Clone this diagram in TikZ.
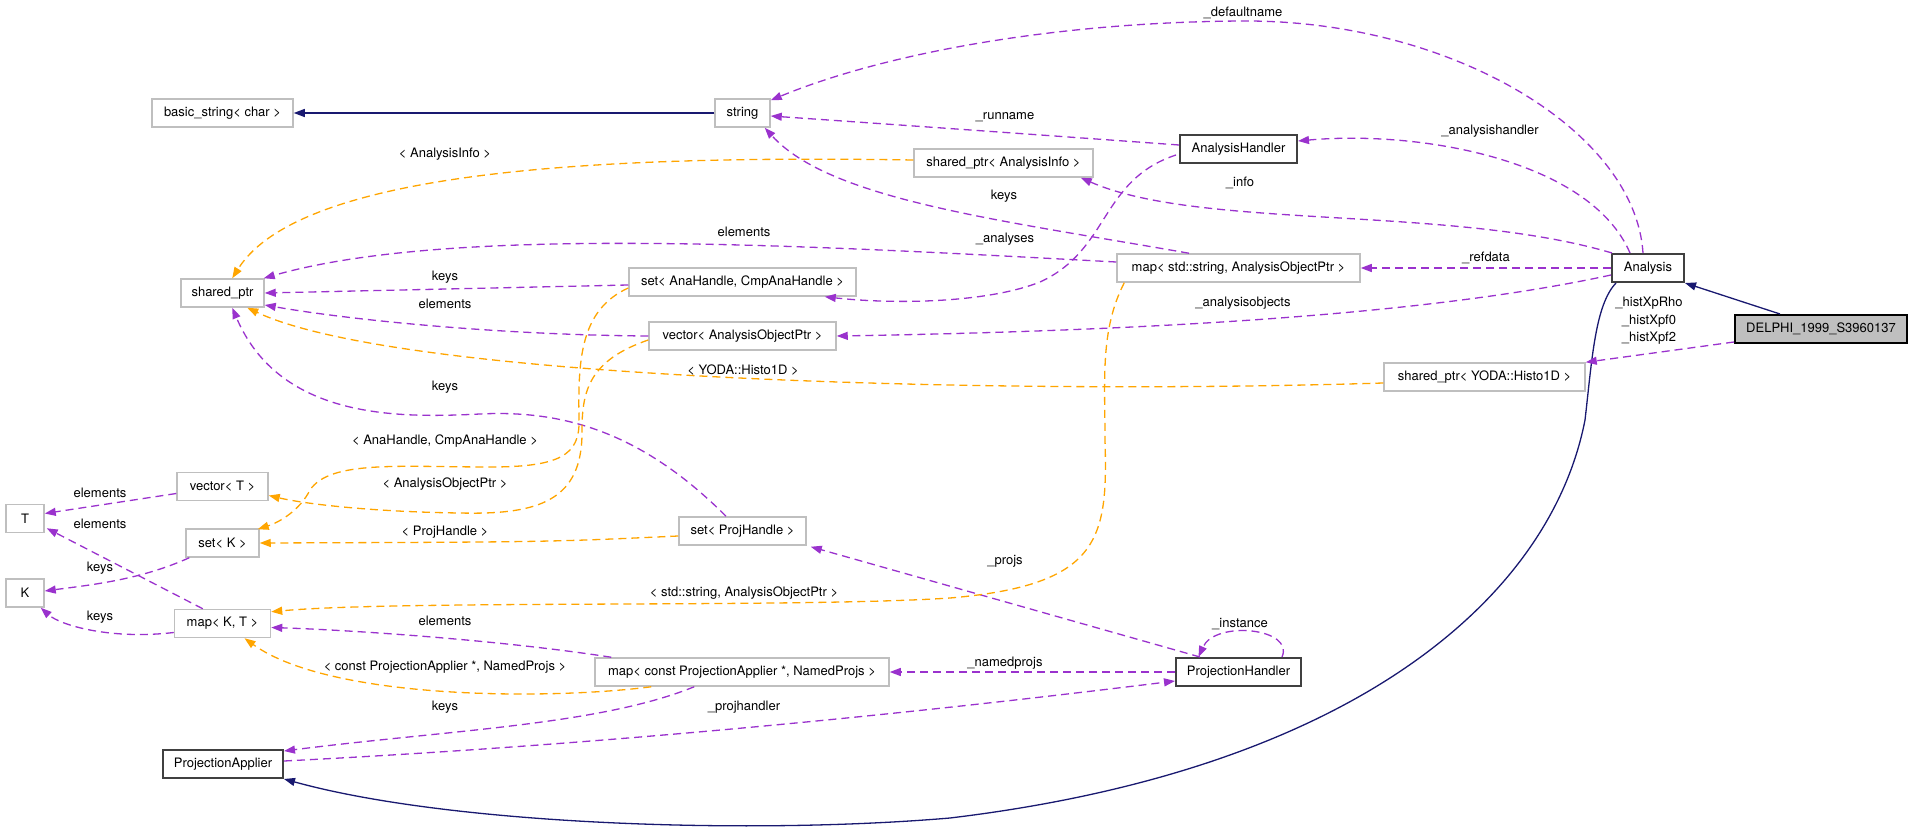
\documentclass[tikz,border=0pt]{standalone}
\usepackage{fontspec}
\setmainfont{TeX Gyre Heros}
\usetikzlibrary{arrows.meta,calc}
\definecolor{purp}{HTML}{9A32CD}
\definecolor{orng}{HTML}{FFA500}
\definecolor{inhblue}{HTML}{191970}
\definecolor{lgray}{HTML}{BFBFBF}
\definecolor{dgray}{HTML}{404040}
\begin{document}
\begin{tikzpicture}[x=1pt,y=-1pt,
  every node/.style={font=\fontsize{13}{17.5}\selectfont},
  cbox/.style={draw=lgray,line width=1.5pt,minimum height=28pt,inner sep=0pt,fill=white},
  bbox/.style={draw=dgray,line width=2pt,minimum height=28pt,inner sep=0pt,fill=white},
  lbl/.style={inner sep=0pt,align=center},
  mem/.style={draw=purp,line width=1.3pt,dash pattern=on 8pt off 5pt,-{Triangle[length=11pt,width=8pt]}},
  tpl/.style={draw=orng,line width=1.3pt,dash pattern=on 8pt off 5pt,-{Triangle[length=11pt,width=8pt]}},
  inh/.style={draw=inhblue,line width=1.3pt,-{Triangle[length=11pt,width=8pt]}}]
\useasboundingbox (0,0) rectangle (1912,834);
% nodes
\node[cbox,minimum width=141pt] (bstr) at (222.5,113) {basic\_string< char >};
\node[cbox,minimum width=55pt] (str) at (742.5,113) {string};
\node[cbox,minimum width=179pt] (api) at (1003.5,163) {shared\_ptr< AnalysisInfo >};
\node[bbox,minimum width=117pt] (ah) at (1238.5,149) {AnalysisHandler};
\node[bbox,minimum width=72pt] (ana) at (1648,268) {Analysis};
\node[draw=black,line width=2pt,fill=lgray,minimum height=28pt,inner sep=0pt,minimum width=172pt] (del) at (1821,329) {DELPHI\_1999\_S3960137};
\node[cbox,minimum width=243pt] (mapstr) at (1238.5,268) {map< std::string, AnalysisObjectPtr >};
\node[cbox,minimum width=201pt] (yoda) at (1484.5,377) {shared\_ptr< YODA::Histo1D >};
\node[cbox,minimum width=83pt] (sp) at (222.5,293) {shared\_ptr};
\node[cbox,minimum width=227pt] (setah) at (742.5,282) {set< AnaHandle, CmpAnaHandle >};
\node[cbox,minimum width=187pt] (vecaop) at (742.5,336) {vector< AnalysisObjectPtr >};
\node[cbox,minimum width=91pt] (vecT) at (222.5,486.5) {vector< T >};
\node[cbox,minimum width=38pt] (nT) at (25,518.5) {T};
\node[cbox,minimum width=73pt] (setK) at (222.5,543) {set< K >};
\node[cbox,minimum width=38pt] (nK) at (25,593) {K};
\node[cbox,minimum width=96pt] (mapKT) at (222.5,623.5) {map< K, T >};
\node[cbox,minimum width=127pt] (setph) at (742.5,531) {set< ProjHandle >};
\node[cbox,minimum width=294pt] (mappa) at (742,672) {map< const ProjectionApplier *, NamedProjs >};
\node[bbox,minimum width=120pt] (pa) at (223,764) {ProjectionApplier};
\node[bbox,minimum width=125pt] (ph) at (1238.5,672) {ProjectionHandler};
% inheritance
\draw[inh] (str.west) -- (bstr.east);
\draw[inh] ($(del.north)+(-41,0)$) -- (ana.south east);
\draw[inh] ($(ana.south west)+(5,0)$) .. controls (1595,305) and (1592,360) .. (1585,420)
  .. controls (1550,600) and (1350,770) .. (950,818)
  .. controls (750,835) and (450,825) .. (pa.south east);
% members
\draw[mem] ($(ana.north)+(-5,0)$) .. controls (1635,130) and (1450,20) .. (1243,21)
  .. controls (1050,22) and (880,55) .. ($(str.north east)+(0,2)$);
\draw[mem] ($(ah.west)+(0,-4)$) .. controls (1000,132) and (900,125) .. ($(str.east)+(0,3)$);
\draw[mem] ($(mapstr.north)+(-49.5,0)$) .. controls (1000,220) and (830,200) .. ($(str.south east)+(-6,0)$);
\draw[mem] ($(ana.north west)+(19,0)$) .. controls (1590,160) and (1420,130) .. ($(ah.east)+(0,-8)$);
\draw[mem] ($(ah.west)+(-3,6)$) .. controls (1100,180) and (1110,250) .. (1040,282)
  .. controls (990,302) and (900,305) .. ($(setah.south east)+(-32,0)$);
\draw[mem] ($(ana.north west)+(1,0)$) .. controls (1450,205) and (1200,230) .. ($(api.south east)+(-13,0)$);
\draw[mem] ($(mapstr.west)+(0,-6)$) .. controls (800,245) and (450,225) .. ($(sp.north east)+(-1,0)$);
\draw[mem] ($(setah.west)+(0,3)$) -- (sp.east);
\draw[mem] (vecaop.west) .. controls (500,335) and (350,320) .. ($(sp.east)+(0,12)$);
\draw[mem] (ana.west) -- (mapstr.east);
\draw[mem] ($(ana.west)+(0,7)$) .. controls (1450,310) and (1200,330) .. (vecaop.east);
\draw[mem] ($(del.west)+(0,13)$) -- (yoda.north east);
\draw[mem] ($(setph.north)+(-16.5,0)$) .. controls (640,430) and (560,410) .. (480,414)
  .. controls (400,418) and (280,420) .. ($(sp.south west)+(52,0)$);
\draw[mem] ($(vecT.west)+(0,7)$) -- ($(nT.east)+(0,-5)$);
\draw[mem] ($(setK.south west)+(4,0)$) .. controls (140,580) and (90,585) .. ($(nK.east)+(0,-2)$);
\draw[mem] ($(mapKT.north west)+(29,0)$) -- ($(nT.south east)+(2,-5)$);
\draw[mem] ($(mapKT.west)+(0,9)$) .. controls (110,640) and (60,625) .. ($(nK.south east)+(-4,0)$);
\draw[mem] ($(mappa.north west)+(17,0)$) .. controls (500,640) and (350,630) .. ($(mapKT.east)+(0,4)$);
\draw[mem] ($(mappa.south west)+(100,0)$) .. controls (600,725) and (450,730) .. ($(pa.north east)+(0,2)$);
\draw[mem] ($(pa.east)+(0,-3)$) .. controls (600,745) and (900,715) .. ($(ph.west)+(0,9)$);
\draw[mem] (ph.west) -- (mappa.east);
\draw[mem] ($(ph.north west)+(25,0)$) -- ($(setph.south east)+(4,1)$);
\draw[mem] ($(ph.north east)+(-20,0)$) .. controls (1295,628) and (1215,620) .. ($(ph.north)+(-40,0)$);
% templates
\draw[tpl] ($(api.west)+(0,-3)$) .. controls (600,155) and (300,170) .. ($(sp.north west)+(52,0)$);
\draw[tpl] ($(yoda.west)+(0,6)$) .. controls (1000,395) and (400,380) .. ($(sp.south west)+(67,0)$);
\draw[tpl] ($(setah.west)+(0,6)$) .. controls (580,310) and (578,360) .. (579,420)
  .. controls (580,455) and (560,467) .. (490,467)
  .. controls (400,467) and (330,460) .. (310,490)
  .. controls (300,510) and (280,522) .. ($(setK.north east)+(-2,1)$);
\draw[tpl] ($(vecaop.west)+(0,4)$) .. controls (590,360) and (582,390) .. (582,430)
  .. controls (583,500) and (540,515) .. (460,513)
  .. controls (380,512) and (310,505) .. ($(vecT.east)+(0,9)$);
\draw[tpl] ($(setph.west)+(0,5)$) .. controls (550,542) .. (setK.east);
\draw[tpl] ($(mapstr.south west)+(8,0)$) .. controls (1100,330) and (1105,380) .. (1105,440)
  .. controls (1108,540) and (1100,585) .. (950,598)
  .. controls (800,608) and (400,600) .. ($(mapKT.north east)+(0,3)$);
\draw[tpl] ($(mappa.south west)+(57,0)$) .. controls (550,700) and (330,700) .. ($(mapKT.south)+(22,0)$);
% labels
\node[lbl] (l1) at (1243,13) {\_defaultname};
\node[lbl] (l2) at (1005,117) {\_runname};
\node[lbl] (l3) at (445,154) {< AnalysisInfo >};
\node[lbl] (l4) at (1490,131) {\_analysishandler};
\node[lbl] (l5) at (1240,183) {\_info};
\node[lbl] (l6) at (1004,196) {keys};
\node[lbl] (l7) at (744,232) {elements};
\node[lbl] (l8) at (1005,239) {\_analyses};
\node[lbl] (l9) at (1486,258) {\_refdata};
\node[lbl] (l10) at (445,277) {keys};
\node[lbl] (l11) at (445,304) {elements};
\node[lbl] (l12) at (1243,303) {\_analysisobjects};
\node[lbl] (l13) at (1649,321) {\_histXpRho\\\_histXpf0\\\_histXpf2};
\node[lbl] (l14) at (743,370) {< YODA::Histo1D >};
\node[lbl] (l15) at (445,387) {keys};
\node[lbl] (l16) at (445,441) {< AnaHandle, CmpAnaHandle >};
\node[lbl] (l17) at (445,484) {< AnalysisObjectPtr >};
\node[lbl] (l18) at (100,493) {elements};
\node[lbl] (l19) at (100,524) {elements};
\node[lbl] (l20) at (445,532) {< ProjHandle >};
\node[lbl] (l21) at (1005,561) {\_projs};
\node[lbl] (l22) at (100,568) {keys};
\node[lbl] (l23) at (744,593) {< std::string, AnalysisObjectPtr >};
\node[lbl] (l24) at (100,617) {keys};
\node[lbl] (l25) at (445,621) {elements};
\node[lbl] (l26) at (1240,624) {\_instance};
\node[lbl] (l27) at (1005,663) {\_namedprojs};
\node[lbl] (l28) at (445,667) {< const ProjectionApplier *, NamedProjs >};
\node[lbl] (l29) at (445,707) {keys};
\node[lbl] (l30) at (744,707) {\_projhandler};
\end{tikzpicture}
\end{document}
